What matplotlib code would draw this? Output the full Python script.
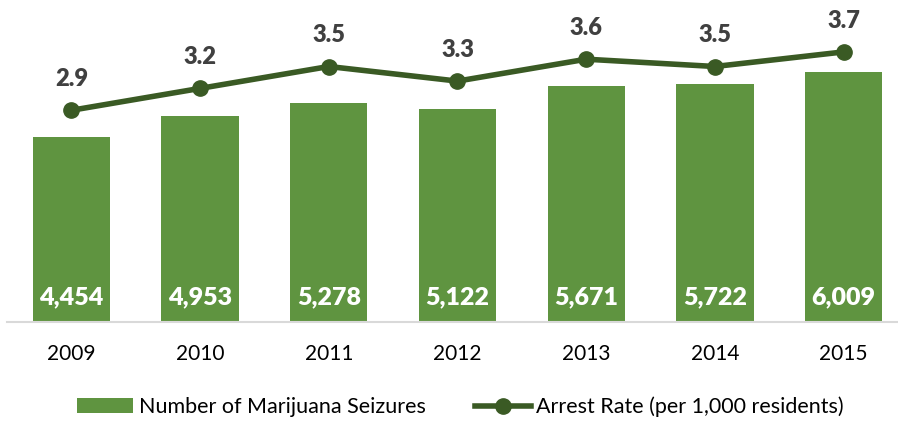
import matplotlib
matplotlib.use("Agg")
import matplotlib.pyplot as plt
from matplotlib.lines import Line2D
from matplotlib.patches import Patch

years = ["2009", "2010", "2011", "2012", "2013", "2014", "2015"]
seizures = [4454, 4953, 5278, 5122, 5671, 5722, 6009]
arrest_rate = [2.9, 3.2, 3.5, 3.3, 3.6, 3.5, 3.7]

bar_color = "#5F9440"
line_color = "#3A5A24"

plt.rcParams['font.family'] = ['Lato', 'DejaVu Sans']

W, H = 898, 421
fig = plt.figure(figsize=(W / 100, H / 100), dpi=100)
left, right = 7, 908
bottom, top = 322, 10
ax = fig.add_axes([left / W, (H - bottom) / H, (right - left) / W, (bottom - top) / H])
x = list(range(len(years)))
ax.bar(x, seizures, width=0.6, color=bar_color, zorder=2)
ax.set_xlim(-0.5, len(years) - 0.5)
ax.set_ylim(0, 312 * 24.05)
for s in ["top", "right", "left"]:
    ax.spines[s].set_visible(False)
ax.spines["bottom"].set_color("#D9D9D9")
ax.spines["bottom"].set_linewidth(1.5)
ax.set_yticks([])
ax.set_xticks(x)
ax.set_xticklabels(years, fontsize=15, color="#000000")
ax.tick_params(axis="x", length=0, pad=16)

for xi, v in zip(x, seizures):
    ax.annotate(f"{v:,}", (xi, 0), xytext=(0, 19.5), textcoords="offset points",
                ha="center", va="center_baseline", color="white", fontsize=18, fontweight=800)

ax2 = ax.twinx()
ax2.set_ylim(0, 312 / 73)
ax2.plot(x, arrest_rate, color=line_color, lw=4, marker="o", ms=11, zorder=3)
ax2.set_yticks([])
for s in ["top", "right", "left", "bottom"]:
    ax2.spines[s].set_visible(False)
for xi, v in zip(x, arrest_rate):
    ax2.annotate(f"{v:.1f}", (xi, v), xytext=(0, 24), textcoords="offset points",
                 ha="center", va="center_baseline", color="#404040", fontsize=17, fontweight=800)

handles = [Patch(facecolor=bar_color, edgecolor="none"),
           Line2D([0], [0], color=line_color, lw=4, marker="o", ms=11)]
labels = ["Number of Marijuana Seizures", "Arrest Rate (per 1,000 residents)"]
fig.legend(handles, labels, loc="center", bbox_to_anchor=(0.513, 1 - 407 / H), ncol=2,
           frameon=False, fontsize=15.5, handlelength=2.6, handletextpad=0.25,
           columnspacing=2.3, handleheight=0.7)

fig.savefig("out.png", dpi=100)
